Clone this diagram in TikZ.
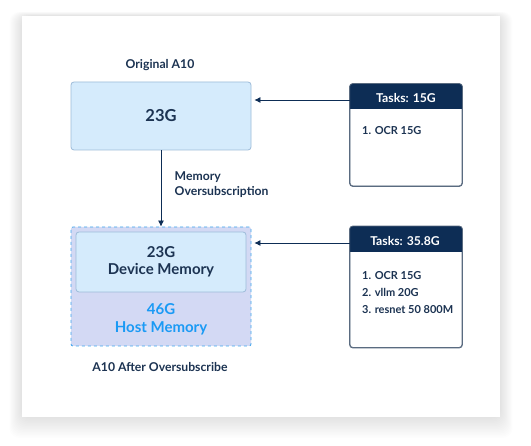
\documentclass[tikz,border=0pt]{standalone}
\usepackage{fontspec}
\setmainfont{Lato}
\usetikzlibrary{positioning, calc, arrows.meta}

\definecolor{navy}{HTML}{0D2D55}
\definecolor{inktext}{HTML}{1C3352}
\definecolor{gpufill}{HTML}{D5EBFC}
\definecolor{gpuline}{HTML}{9DBBD9}
\definecolor{hostfill}{HTML}{D3D9F4}
\definecolor{hostline}{HTML}{3DA5EE}
\definecolor{hosttext}{HTML}{1A9AF5}
\definecolor{taskline}{HTML}{5A6B80}

\tikzset{
  gpubox/.style={draw=gpuline, fill=gpufill, line width=0.8pt, rounded corners=3pt,
    minimum width=180pt, minimum height=68pt, inner sep=0pt},
  taskbody/.style={draw=taskline, fill=white, line width=0.8pt, rounded corners=3pt,
    minimum width=112pt, inner sep=0pt},
  caption/.style={text=inktext, font=\fontsize{12.2}{14.5}\selectfont\bfseries},
  tasklist/.style={text=inktext, align=left, inner sep=0pt, anchor=north west,
    font=\fontsize{11}{17}\selectfont\bfseries},
  link/.style={draw=navy, line width=0.8pt, -{Latex[length=6pt,width=6pt]}},
}

\begin{document}
\begin{tikzpicture}[x=1pt, y=-1pt]

    \useasboundingbox (0,0) rectangle (531,446);
    \fill[white] (0,0) rectangle (531,446);

    % soft card shadow
    \foreach \s in {1,...,14} {
      \fill[black, opacity=0.008, rounded corners=10pt]
        ($(22,16)+(-0.9*\s,-0.3*\s)$) rectangle ($(500,417)+(0.9*\s,1.5*\s)$);
    }
    \fill[white] (22,16) rectangle (500,417);

    % original gpu
    \node[caption] (origcap) at (160,65) {Original A10};
    \node[gpubox] (orig) at (161,116) {};
    \node[text=inktext, font=\fontsize{16.5}{19}\selectfont\bfseries] at (orig) {23G};

    % gpu after oversubscription
    \node[draw=hostline, fill=hostfill, dashed, line width=0.8pt, rounded corners=2pt,
      minimum width=180pt, minimum height=119pt, inner sep=0pt] (host) at (161,286.5) {};
    \node[gpubox, minimum width=170pt, minimum height=60pt] (dev) at (161,262) {};
    \node[text=inktext, align=center, font=\fontsize{15}{17.5}\selectfont\bfseries] at (dev) {23G\\Device Memory};
    \node[text=hosttext, align=center, font=\fontsize{15}{17.5}\selectfont\bfseries] at (161,319.5) {46G\\Host Memory};
    \node[caption] (hostcap) at (160,367) {A10 After Oversubscribe};

    \draw[link] (orig.south) -- (host.north) node[pos=0.45, right=10pt, caption, align=left] {Memory\\Oversubscription};

    % task lists
    \node[taskbody, minimum height=102pt] (bodyA) at (406,135) {};
    \fill[navy] (bodyA.west |- 0,109) [rounded corners=3pt] -- (bodyA.north west) -- (bodyA.north east) [sharp corners] -- (bodyA.east |- 0,109) -- cycle;
    \draw[taskline, line width=0.8pt, rounded corners=3pt] (bodyA.north west) rectangle (bodyA.south east);
    \node[text=white, font=\fontsize{12.2}{14.5}\selectfont\bfseries] (headA) at (406,98) {Tasks: 15G};
    \node[tasklist] (listA) at (362,126) {1. OCR 15G};

    \node[taskbody, minimum height=121pt] (bodyB) at (406,287) {};
    \fill[navy] (bodyB.west |- 0,252) [rounded corners=3pt] -- (bodyB.north west) -- (bodyB.north east) [sharp corners] -- (bodyB.east |- 0,252) -- cycle;
    \draw[taskline, line width=0.8pt, rounded corners=3pt] (bodyB.north west) rectangle (bodyB.south east);
    \node[text=white, font=\fontsize{12.2}{14.5}\selectfont\bfseries] (headB) at (405,241) {Tasks: 35.8G};
    \node[tasklist] (listB) at (362,271) {1. OCR 15G\\2. vllm 20G\\3. resnet 50 800M};

    \draw[link] (bodyA.west |- 0,100) -- ($(orig.east |- 0,100)+(3,0)$);
    \draw[link] (bodyB.west |- 0,243) -- ($(host.east |- 0,243)+(3,0)$);
\end{tikzpicture}
\end{document}
